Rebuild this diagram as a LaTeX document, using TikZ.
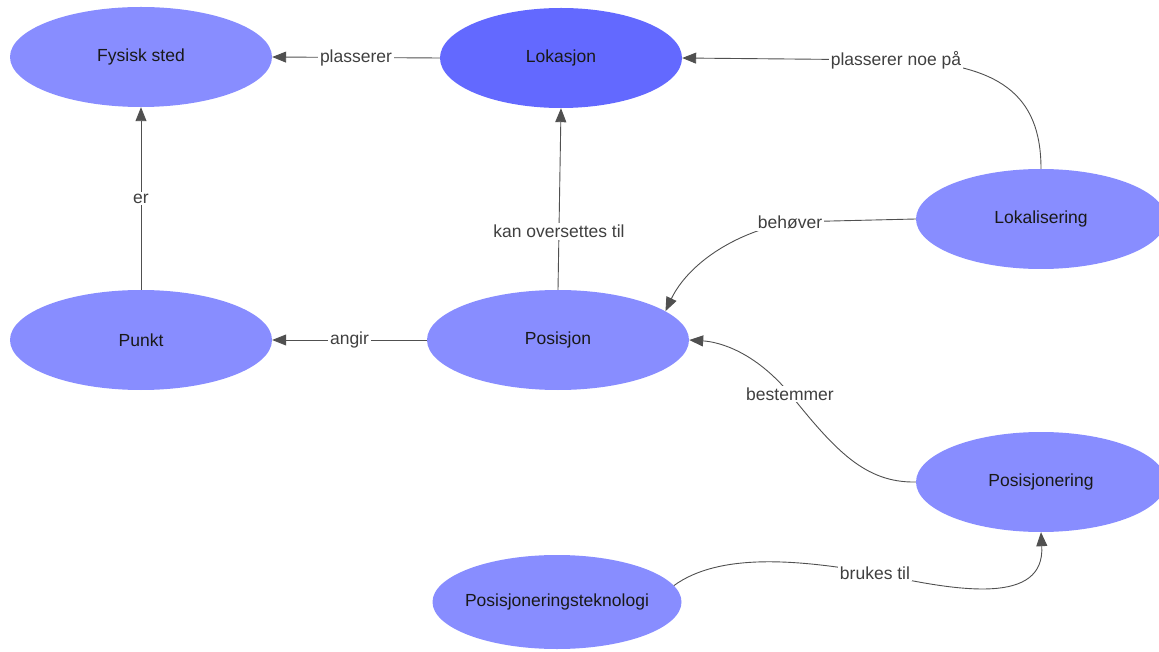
\documentclass[tikz,border=0pt]{standalone}
\usepackage{fontspec}
\setmainfont{Liberation Sans}
\usetikzlibrary{shapes.geometric,arrows.meta}
\definecolor{concept}{HTML}{888DFF}
\definecolor{keyconcept}{HTML}{6369FF}
\definecolor{linkgray}{HTML}{505050}
\definecolor{labelgray}{HTML}{404040}
\begin{document}
\begin{tikzpicture}[x=1pt,y=-1pt,
  bubble/.style={ellipse,draw=none,fill=concept,minimum width=262pt,minimum height=100pt,
    inner sep=0pt,font=\fontsize{17.5}{20}\selectfont,text=black!90},
  link/.style={draw=linkgray,line width=0.9pt,-{Triangle[length=14pt,width=11pt]}},
  tag/.style={fill=white,inner sep=2pt,text=labelgray,font=\fontsize{17.5}{20}\selectfont}]
\useasboundingbox (0,0) rectangle (1159,652);

% concepts
\node[bubble] (fysisk) at (141,57) {Fysisk sted};
\node[bubble,fill=keyconcept,minimum width=242pt] (lokasjon) at (561,58) {Lokasjon};
\node[bubble] (punkt) at (141,340) {Punkt};
\node[bubble] (posisjon) at (558,340) {Posisjon};
\node[bubble,minimum width=250pt] (lokal) at (1041,219) {Lokalisering};
\node[bubble,minimum width=250pt] (posjering) at (1041,482) {Posisjonering};
\node[bubble,minimum width=249pt,minimum height=94pt,inner xsep=-6pt] (tekn) at (557,602) {Posisjoneringsteknologi};

% straight relations
\draw[link] (lokasjon.west) -- node[tag] {plasserer} (fysisk.east);
\draw[link] (punkt.north) -- node[tag] {er} (fysisk.south);
\draw[link] (posisjon.north) -- node[tag,pos=0.32] {kan oversettes til} (lokasjon.south);
\draw[link] (posisjon.west) -- node[tag] {angir} (punkt.east);

% curved relations
\draw[link] (lokal.north) .. controls (1041,95) and (1000,63) .. (896,60)
  node[tag] {plasserer noe på} -- (lokasjon.east);
\draw[link] (lokal.west) -- (790,222) node[tag] {behøver}
  .. controls (725,235) and (685,270) .. (posisjon.15);
\draw[link] (posjering.west) .. controls (865,483) and (835,450) .. (790,394)
  node[tag] {bestemmer} .. controls (755,352) and (720,342) .. (posisjon.east);
\draw[link] (tekn.8) .. controls (720,552) and (800,560) .. (875,573)
  node[tag] {brukes til} .. controls (960,592) and (1045,605) .. (posjering.south);
\end{tikzpicture}
\end{document}
